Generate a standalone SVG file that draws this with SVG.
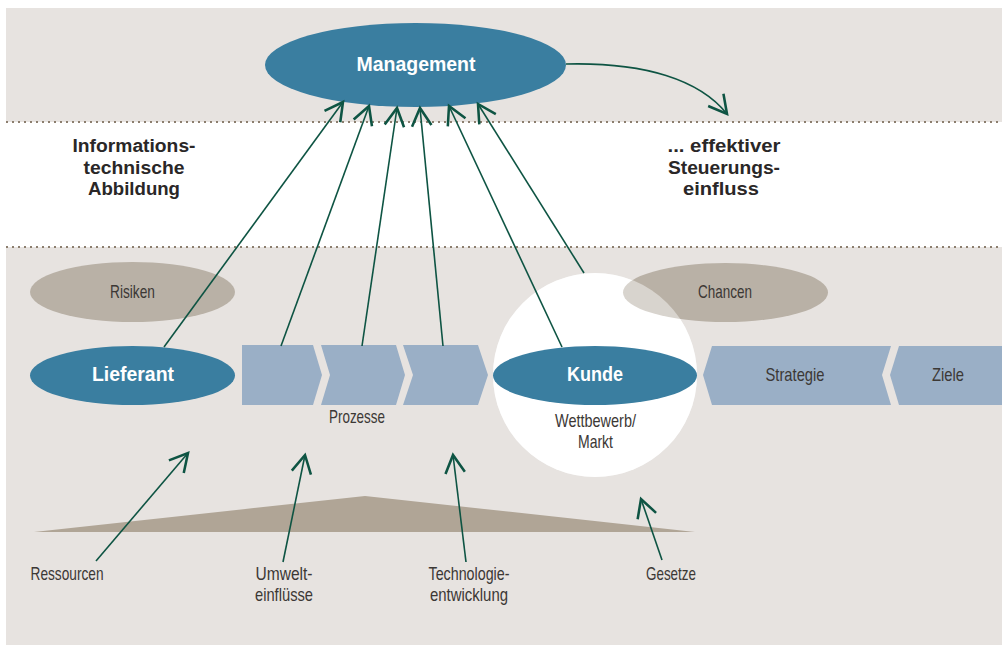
<svg xmlns="http://www.w3.org/2000/svg" width="1002" height="645" viewBox="0 0 1002 645">
<defs>
<style>
.bg{fill:#e7e3e0}
.dot{stroke:#8c7e6e;stroke-width:2;stroke-dasharray:2 4;fill:none}
.blue{fill:#3a7ea0}
.tan{fill:#b9b1a6}
.proc{fill:#9aafc6}
.con{stroke:#0e5443;stroke-width:1.6;fill:none;marker-end:url(#ah)}
.bold{font-family:"Liberation Sans Narrow","Liberation Sans",Arial,sans-serif;font-weight:bold;text-anchor:middle}
.wt{fill:#ffffff;font-size:20px}
.hd{fill:#2a2727;font-size:18px}
.lbl{font-family:"Liberation Sans Narrow","Liberation Sans",Arial,sans-serif;fill:#3c3835;font-size:19px;text-anchor:middle}
</style>
<marker id="ah" markerUnits="userSpaceOnUse" markerWidth="24" markerHeight="24" viewBox="-13 -8 15 16" refX="0" refY="0" orient="auto">
<path d="M-12,-6.5 L0,0 L-12,6.5" fill="none" stroke="#0e5443" stroke-width="1.7"/>
</marker>
</defs>

<g id="background">
<rect class="bg" x="6" y="8" width="996" height="637"/>
<rect x="6" y="122" width="996" height="125" fill="#ffffff"/>
<line class="dot" x1="6" y1="122" x2="1002" y2="122"/>
<line class="dot" x1="6" y1="247" x2="1002" y2="247"/>
<polygon points="34,532 365,496 695,532" fill="#b0a596"/>
</g>

<g id="header-left">
<text class="bold hd" x="134" y="152" textLength="123" lengthAdjust="spacingAndGlyphs">Informations-</text>
<text class="bold hd" x="134" y="174" textLength="101" lengthAdjust="spacingAndGlyphs">technische</text>
<text class="bold hd" x="134" y="195" textLength="92" lengthAdjust="spacingAndGlyphs">Abbildung</text>
</g>
<g id="header-right">
<text class="bold hd" x="724" y="152" textLength="113" lengthAdjust="spacingAndGlyphs">... effektiver</text>
<text class="bold hd" x="724" y="174" textLength="112" lengthAdjust="spacingAndGlyphs">Steuerungs-</text>
<text class="bold hd" x="721" y="195" textLength="76" lengthAdjust="spacingAndGlyphs">einfluss</text>
</g>

<g id="management">
<ellipse class="blue" cx="415.5" cy="65" rx="150.5" ry="42"/>
<text class="bold wt" x="416" y="71" textLength="119" lengthAdjust="spacingAndGlyphs">Management</text>
</g>

<g id="risiken">
<ellipse class="tan" cx="132.5" cy="292" rx="102.5" ry="30"/>
<text class="lbl" x="132.5" y="298" textLength="45" lengthAdjust="spacingAndGlyphs">Risiken</text>
</g>

<g id="markt">
<circle cx="595" cy="375" r="102" fill="#ffffff"/>
</g>

<g id="chancen">
<ellipse class="tan" cx="725.5" cy="292.5" rx="102.5" ry="29.5"/>
<circle cx="595" cy="375" r="102" fill="#ffffff" opacity="0.45"/>
<text class="lbl" x="725" y="298" textLength="54" lengthAdjust="spacingAndGlyphs">Chancen</text>
</g>

<g id="lieferant">
<ellipse class="blue" cx="132.5" cy="375.5" rx="102.5" ry="29.5"/>
<text class="bold wt" x="133" y="381" textLength="82" lengthAdjust="spacingAndGlyphs">Lieferant</text>
</g>

<g id="kunde">
<ellipse class="blue" cx="595" cy="375.5" rx="102" ry="29.5"/>
<text class="bold wt" x="595" y="381" textLength="56" lengthAdjust="spacingAndGlyphs">Kunde</text>
<text class="lbl" x="595.5" y="427" textLength="81" lengthAdjust="spacingAndGlyphs">Wettbewerb/</text>
<text class="lbl" x="595.5" y="448" textLength="35" lengthAdjust="spacingAndGlyphs">Markt</text>
</g>

<g id="prozesse">
<polygon class="proc" points="242,345 313,345 322,375 313,405 242,405"/>
<polygon class="proc" points="321,345 396,345 405,375 396,405 321,405 330,375"/>
<polygon class="proc" points="403,345 478,345 488,375 478,405 403,405 413,375"/>
<text class="lbl" x="357" y="423" textLength="56" lengthAdjust="spacingAndGlyphs">Prozesse</text>
</g>

<g id="strategie">
<polygon class="proc" points="703,375 712,346 891,346 882,375 891,405 712,405"/>
<text class="lbl" x="795" y="381" textLength="59" lengthAdjust="spacingAndGlyphs">Strategie</text>
</g>
<g id="ziele">
<polygon class="proc" points="890,375 899,346 1002,346 1002,405 899,405"/>
<text class="lbl" x="948" y="381" textLength="32" lengthAdjust="spacingAndGlyphs">Ziele</text>
</g>

<g id="labels-bottom">
<text class="lbl" x="67" y="580" textLength="73" lengthAdjust="spacingAndGlyphs">Ressourcen</text>
<text class="lbl" x="284" y="580" textLength="57" lengthAdjust="spacingAndGlyphs">Umwelt-</text>
<text class="lbl" x="284" y="601" textLength="58" lengthAdjust="spacingAndGlyphs">einflüsse</text>
<text class="lbl" x="469" y="580" textLength="81" lengthAdjust="spacingAndGlyphs">Technologie-</text>
<text class="lbl" x="469" y="601" textLength="78" lengthAdjust="spacingAndGlyphs">entwicklung</text>
<text class="lbl" x="671" y="580" textLength="50" lengthAdjust="spacingAndGlyphs">Gesetze</text>
</g>

<g id="connectors">
<path class="con" d="M566,64 C645,62 700,80 727,114"/>
<line class="con" x1="164" y1="347" x2="343" y2="102"/>
<line class="con" x1="281" y1="346" x2="369" y2="106"/>
<line class="con" x1="362" y1="346" x2="397" y2="108"/>
<line class="con" x1="443" y1="346" x2="420" y2="108"/>
<line class="con" x1="562" y1="347" x2="449" y2="106"/>
<line class="con" x1="584" y1="273" x2="478" y2="104"/>
<line class="con" x1="96" y1="561" x2="188" y2="453"/>
<line class="con" x1="283" y1="562" x2="305" y2="455"/>
<line class="con" x1="466" y1="562" x2="453" y2="455"/>
<line class="con" x1="662" y1="560" x2="641" y2="499"/>
</g>
</svg>
